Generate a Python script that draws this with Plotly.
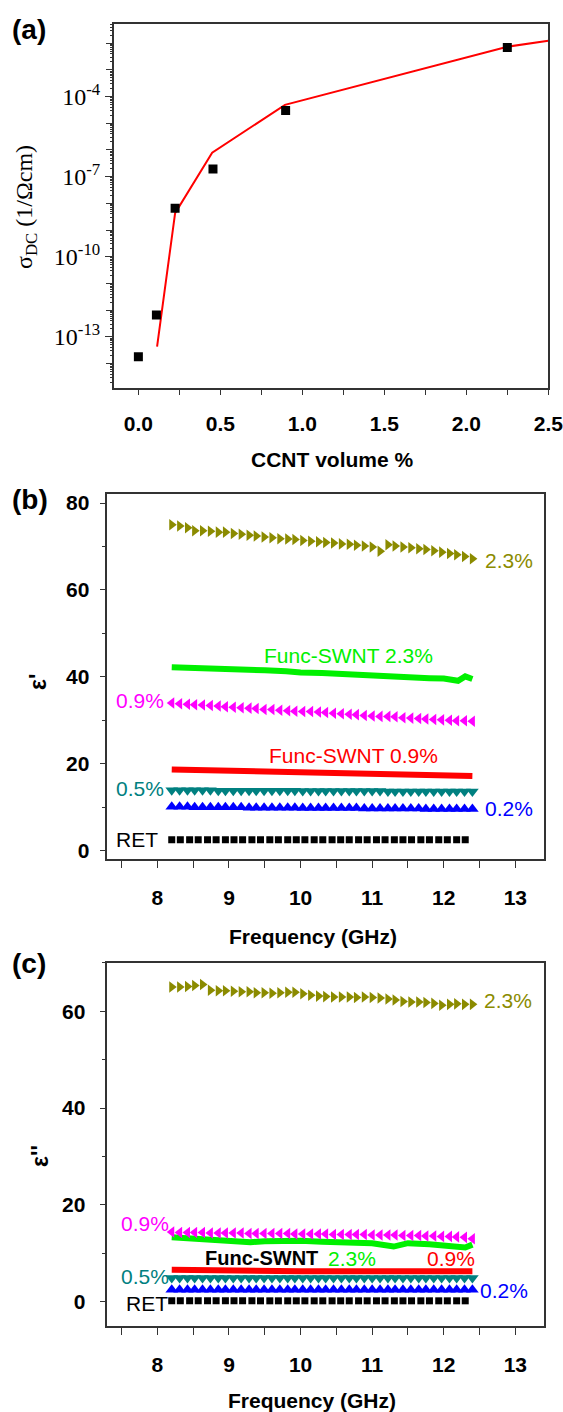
import plotly.graph_objects as go

# ---------------- panel (a) data ----------------
CCNT_VOL = [0.0, 0.11, 0.224, 0.455, 0.898, 2.25]
SIGMA_DC = [1.78e-14, 6.5e-13, 6.6e-9, 1.95e-7, 3.0e-5, 6.9e-3]
FIT_VOL = [0.114, 0.224, 0.45, 0.894, 2.25, 2.5]
FIT_SIGMA = [4.3e-14, 4.3e-9, 7.9e-7, 4.9e-5, 7.4e-3, 1.23e-2]

# ---------------- frequency grids (GHz) ----------------
FREQ_TRI = [8.20, 8.31, 8.42, 8.52, 8.63, 8.74, 8.85, 8.95, 9.06, 9.17,
            9.28, 9.38, 9.49, 9.60, 9.71, 9.82, 9.92, 10.03, 10.14, 10.25,
            10.35, 10.46, 10.57, 10.68, 10.78, 10.89, 11.00, 11.11, 11.22, 11.32,
            11.43, 11.54, 11.65, 11.75, 11.86, 11.97, 12.08, 12.18, 12.29, 12.40]
FREQ_SQ = [8.20, 8.32, 8.45, 8.57, 8.70, 8.82, 8.95, 9.07, 9.19, 9.32,
           9.44, 9.57, 9.69, 9.82, 9.94, 10.06, 10.19, 10.31, 10.44, 10.56,
           10.68, 10.81, 10.93, 11.06, 11.18, 11.31, 11.43, 11.55, 11.68, 11.80,
           11.93, 12.05, 12.18, 12.30]
FREQ_LINE = [8.2, 8.5, 8.8, 9.0, 9.3, 9.5, 9.8, 10.0, 10.3, 10.5, 10.8, 11.0,
             11.3, 11.5, 11.8, 12.0, 12.2, 12.3, 12.4]

# ---------------- panel (b): epsilon' ----------------
EP_RET = [2.5] * 34
EP_02 = [10.1, 10.1, 10.1, 10.0, 10.0, 10.0, 10.0, 10.0, 10.0, 10.0,
         9.9, 9.9, 9.9, 9.9, 9.9, 9.9, 9.9, 9.8, 9.8, 9.8,
         9.8, 9.8, 9.8, 9.8, 9.8, 9.7, 9.7, 9.7, 9.7, 9.7,
         9.7, 9.7, 9.7, 9.6, 9.6, 9.6, 9.6, 9.6, 9.6, 9.6]
EP_05 = [13.9, 13.9, 13.9, 13.9, 13.9, 13.9, 13.8, 13.8, 13.8, 13.8,
         13.8, 13.8, 13.8, 13.8, 13.8, 13.8, 13.8, 13.7, 13.7, 13.7,
         13.7, 13.7, 13.7, 13.7, 13.7, 13.7, 13.7, 13.7, 13.6, 13.6,
         13.6, 13.6, 13.6, 13.6, 13.6, 13.6, 13.6, 13.6, 13.6, 13.6]
EP_09 = [34.0, 33.8, 33.7, 33.6, 33.5, 33.4, 33.3, 33.1, 33.0, 32.9,
         32.8, 32.7, 32.5, 32.5, 32.3, 32.2, 32.1, 32.0, 32.0, 31.9,
         31.8, 31.6, 31.5, 31.4, 31.3, 31.1, 31.0, 30.9, 30.9, 30.8,
         30.6, 30.5, 30.4, 30.3, 30.2, 30.1, 30.0, 29.9, 29.9, 29.8]
EP_23 = [75.0, 74.7, 74.3, 73.6, 73.6, 73.5, 73.3, 73.3, 73.0, 72.8,
         72.6, 72.4, 72.2, 72.0, 71.8, 71.7, 71.6, 71.4, 71.2, 71.1,
         70.9, 70.8, 70.6, 70.5, 70.3, 70.1, 69.9, 68.9, 70.4, 70.1,
         69.9, 69.7, 69.5, 69.3, 69.0, 68.7, 68.4, 68.1, 67.7, 67.2]
EP_FS09 = [18.7, 18.6, 18.5, 18.4, 18.3, 18.2, 18.1, 18.0, 17.9, 17.8,
           17.7, 17.6, 17.5, 17.4, 17.4, 17.3, 17.1, 17.2, 17.2]
EP_FS23 = [42.2, 42.1, 41.9, 41.8, 41.8, 41.5, 41.3, 41.0, 40.9, 40.7,
           40.5, 40.2, 40.2, 39.9, 39.7, 39.6, 39.1, 40.1, 39.5]

# ---------------- panel (c): epsilon'' ----------------
EPP_RET = [0.2] * 34
EPP_02 = [2.5] * 40
EPP_05 = [4.9] * 40
EPP_09 = [14.4, 14.3, 14.3, 14.3, 14.3, 14.2, 14.2, 14.2, 14.2, 14.2,
          14.1, 14.1, 14.1, 14.1, 14.1, 14.1, 14.0, 14.0, 14.0, 14.0,
          14.0, 13.9, 13.9, 13.9, 13.9, 13.9, 13.8, 13.8, 13.8, 13.8,
          13.7, 13.7, 13.7, 13.6, 13.6, 13.5, 13.5, 13.4, 13.3, 13.0]
EPP_23 = [65.0, 65.0, 65.1, 65.3, 65.5, 64.3, 64.2, 64.2, 64.1, 64.0,
          64.0, 63.8, 63.8, 63.7, 63.8, 63.9, 63.9, 63.6, 63.3, 63.1,
          63.0, 62.9, 62.9, 62.9, 62.8, 62.9, 62.8, 62.7, 62.5, 62.3,
          62.0, 61.9, 61.9, 61.8, 61.6, 61.2, 61.4, 61.5, 61.4, 61.4]
EPP_FS09 = [6.6, 6.5, 6.5, 6.4, 6.4, 6.4, 6.3, 6.3, 6.3, 6.3, 6.3, 6.3,
            6.3, 6.3, 6.3, 6.3, 6.2, 6.2, 6.3]
EPP_FS23 = [13.3, 13.0, 12.9, 12.8, 12.3, 12.5, 12.6, 12.6, 12.4, 12.3, 12.2, 12.1,
            11.4, 12.1, 11.9, 11.7, 11.5, 11.2, 11.8]

# ---------------- styling ----------------
OLIVE = "#8B8B00"
MAGENTA = "#FF00FF"
GREEN = "#00F000"
RED = "#FF0000"
TEAL = "#008080"
BLUE = "#0000FF"
BLACK = "#000000"
SANS = "Liberation Sans, Arial, sans-serif"
SERIF = "Liberation Serif, Times New Roman, serif"
W, H = 563, 1412

fig = go.Figure()

# panel (a)
fig.add_trace(go.Scatter(x=FIT_VOL, y=FIT_SIGMA, mode="lines",
                         line=dict(color=RED, width=2), xaxis="x", yaxis="y"))
fig.add_trace(go.Scatter(x=CCNT_VOL, y=SIGMA_DC, mode="markers",
                         marker=dict(symbol="square", size=9, color=BLACK),
                         xaxis="x", yaxis="y"))


def add_eps(xa, ya, ret, s02, s05, s09, s23, fs09, fs23):
    fig.add_trace(go.Scatter(x=FREQ_SQ, y=ret, mode="markers",
                             marker=dict(symbol="square", size=7, color=BLACK),
                             xaxis=xa, yaxis=ya))
    fig.add_trace(go.Scatter(x=FREQ_TRI, y=s02, mode="markers",
                             marker=dict(symbol="triangle-up", size=11, color=BLUE),
                             xaxis=xa, yaxis=ya))
    fig.add_trace(go.Scatter(x=FREQ_TRI, y=s05, mode="markers",
                             marker=dict(symbol="triangle-down", size=11, color=TEAL),
                             xaxis=xa, yaxis=ya))
    fig.add_trace(go.Scatter(x=FREQ_LINE, y=fs09, mode="lines",
                             line=dict(color=RED, width=6), xaxis=xa, yaxis=ya))
    fig.add_trace(go.Scatter(x=FREQ_LINE, y=fs23, mode="lines",
                             line=dict(color=GREEN, width=6), xaxis=xa, yaxis=ya))
    fig.add_trace(go.Scatter(x=FREQ_TRI, y=s09, mode="markers",
                             marker=dict(symbol="triangle-left", size=10, color=MAGENTA),
                             xaxis=xa, yaxis=ya))
    fig.add_trace(go.Scatter(x=FREQ_TRI, y=s23, mode="markers",
                             marker=dict(symbol="triangle-right", size=10, color=OLIVE),
                             xaxis=xa, yaxis=ya))


add_eps("x2", "y2", EP_RET, EP_02, EP_05, EP_09, EP_23, EP_FS09, EP_FS23)
add_eps("x3", "y3", EPP_RET, EPP_02, EPP_05, EPP_09, EPP_23, EPP_FS09, EPP_FS23)

FRAME = "#333333"
bold_tick = dict(family=SANS, size=21, color=BLACK, weight="bold")

# log-axis ticks for panel (a)
LABEL_DECADES = [-13, -10, -7, -4]
LOG_TICKVALS = [10.0 ** d for d in LABEL_DECADES]
LOG_TICKTEXT = ["10<sup>%d</sup>" % d for d in LABEL_DECADES]
ALL_DECADES = [10.0 ** d for d in range(-14, -1)]
LOG_MINOR = [m * 10.0 ** d for d in range(-15, -1) for m in range(2, 10)]
YA_RANGE = [-14.93, -1.29]
YA_DOMAIN = [0.7250, 0.9828]

layout = dict(
    width=W, height=H, margin=dict(l=0, r=0, t=0, b=0, autoexpand=False),
    paper_bgcolor="white", plot_bgcolor="white", showlegend=False,
    xaxis=dict(domain=[0.2021, 0.9739], anchor="y", range=[-0.15, 2.5],
               dtick=0.5, tick0=0, tickformat=".1f",
               ticks="outside", ticklen=5, tickwidth=1.3, tickcolor=FRAME,
               minor=dict(dtick=0.25, tick0=0, ticks="outside", ticklen=5,
                          tickwidth=1.3, tickcolor=FRAME),
               showline=True, linecolor=FRAME, linewidth=1.5, mirror=True,
               showgrid=False, zeroline=False, tickfont=bold_tick,
               ticklabelstandoff=11, ticklabeloverflow="allow"),
    yaxis=dict(domain=YA_DOMAIN, anchor="x", type="log",
               range=YA_RANGE, tickmode="array",
               tickvals=LOG_TICKVALS, ticktext=LOG_TICKTEXT,
               ticks="outside", ticklen=7, tickwidth=1.3, tickcolor=FRAME,
               minor=dict(tickmode="array", tickvals=LOG_MINOR, ticks="outside",
                          ticklen=2, tickwidth=1, tickcolor=FRAME),
               showline=True, linecolor=FRAME, linewidth=1.5, mirror=True,
               showgrid=False, zeroline=False,
               tickfont=dict(family=SERIF, size=24, color=BLACK)),
    # unlabeled decade ticks for panel (a)
    yaxis4=dict(domain=YA_DOMAIN, anchor="x", overlaying="y", type="log",
                range=YA_RANGE, tickmode="array", tickvals=ALL_DECADES,
                showticklabels=False, ticks="outside", ticklen=7, tickwidth=1.3,
                tickcolor=FRAME, showline=False, showgrid=False, zeroline=False),
)

for i, (ydom, yrng, sof) in enumerate([([0.3914, 0.6499], [-2, 82], 6),
                                        ([0.0609, 0.3182], [-5, 70], 10)]):
    n = str(i + 2)
    layout["xaxis" + n] = dict(
        domain=[0.1906, 0.9662], anchor="y" + n, range=[7.3, 13.4],
        dtick=1, tick0=8, ticks="outside", ticklen=7, tickwidth=1.3, tickcolor=FRAME,
        minor=dict(dtick=0.5, tick0=7.5, ticks="outside", ticklen=7, tickwidth=1.3,
                   tickcolor=FRAME),
        showline=True, linecolor=FRAME, linewidth=1.5, mirror=True,
        showgrid=False, zeroline=False, tickfont=bold_tick, ticklabelstandoff=12,
        ticklabeloverflow="allow")
    layout["yaxis" + n] = dict(
        domain=ydom, anchor="x" + n, range=yrng, dtick=20, tick0=0,
        ticks="outside", ticklen=6, tickwidth=1.3, tickcolor=FRAME,
        minor=dict(dtick=10, tick0=0, ticks="outside", ticklen=4, tickwidth=1.3,
                   tickcolor=FRAME),
        showline=True, linecolor=FRAME, linewidth=1.5, mirror=True,
        showgrid=False, zeroline=False, tickfont=bold_tick, ticklabelstandoff=sof)

fig.update_layout(**layout)
# invisible trace so the overlay axis is drawn
fig.add_trace(go.Scatter(x=[None], y=[None], xaxis="x", yaxis="y4", showlegend=False,
                         hoverinfo="skip"))


def pann(text, xpx, ypx, size, bold=False, family=SANS, angle=0):
    fig.add_annotation(text=text, x=xpx / W, y=1 - ypx / H, xref="paper", yref="paper",
                       xanchor="center", yanchor="middle", showarrow=False,
                       textangle=angle,
                       font=dict(family=family, size=size, color=BLACK,
                                 weight="bold" if bold else "normal"))


pann("(a)", 29, 29, 28, bold=True)
pann("(b)", 30, 500, 28, bold=True)
pann("(c)", 29, 963, 28, bold=True)
pann("σ<sub>DC</sub> (1/Ωcm)", 26, 207, 24, family=SERIF, angle=-90)
pann("CCNT volume %", 333, 460, 21, bold=True)
pann("ε'", 38, 682, 23, bold=True, angle=-90)
pann("Frequency (GHz)", 313, 936, 21, bold=True)
pann("ε''", 40, 1156, 23, bold=True, angle=-90)
pann("Frequency (GHz)", 312, 1400, 21, bold=True)


def dann(text, x, y, color, xa, ya, size=21, bold=False):
    fig.add_annotation(text=text, x=x, y=y, xref=xa, yref=ya, xanchor="left",
                       yanchor="middle", showarrow=False,
                       font=dict(family=SANS, size=size, color=color,
                                 weight="bold" if bold else "normal"))


# panel (b) labels
dann("2.3%", 12.55, 66.8, OLIVE, "x2", "y2")
dann("Func-SWNT 2.3%", 9.46, 44.9, GREEN, "x2", "y2")
dann("0.9%", 7.40, 34.5, MAGENTA, "x2", "y2")
dann("Func-SWNT 0.9%", 9.53, 22.0, RED, "x2", "y2")
dann("0.5%", 7.40, 14.4, TEAL, "x2", "y2")
dann("0.2%", 12.55, 9.8, BLUE, "x2", "y2")
dann("RET", 7.40, 2.5, BLACK, "x2", "y2")

# panel (c) labels
dann("2.3%", 12.54, 62.1, OLIVE, "x3", "y3")
dann("0.9%", 7.46, 16.1, MAGENTA, "x3", "y3")
dann("Func-SWNT", 8.64, 9.0, BLACK, "x3", "y3", size=20, bold=True)
dann("2.3%", 10.36, 9.0, GREEN, "x3", "y3")
dann("0.9%", 11.74, 9.0, RED, "x3", "y3")
dann("0.5%", 7.46, 5.2, TEAL, "x3", "y3")
dann("0.2%", 12.48, 2.3, BLUE, "x3", "y3")
dann("RET", 7.53, -0.35, BLACK, "x3", "y3")

fig.write_html("out.html")
